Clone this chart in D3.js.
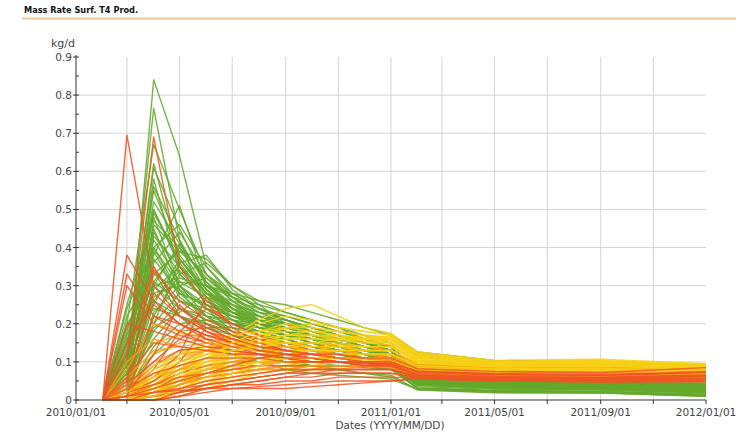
<!DOCTYPE html>
<html><head><meta charset="utf-8">
<script src="https://cdn.jsdelivr.net/npm/d3@7"></script>
<style>body{margin:0;background:#fff;}svg{display:block;}</style>
</head><body>
<svg id="c" width="736" height="435"></svg>
<script>
const dates = ["2010-02-01","2010-03-01","2010-04-01","2010-05-01","2010-06-01","2010-07-01","2010-08-01","2010-09-01","2010-10-01","2010-11-01","2010-12-01","2011-01-01","2011-02-01","2011-05-01","2011-09-01","2012-01-01"];
const xTickLabels = ["2010/01/01","2010/05/01","2010/09/01","2011/01/01","2011/05/01","2011/09/01","2012/01/01"];
const yTicks = [0,0.1,0.2,0.3,0.4,0.5,0.6,0.7,0.8,0.9];

const greenSeries = [
[0,.05,.84,.64,.35,.27,.22,.19,.17,.15,.14,.12,.058,.048,.044,.042],
[0,.1,.765,.42,.3,.24,.2,.17,.15,.13,.12,.11,.05,.04,.036,.03],
[0,.2,.67,.5,.33,.26,.21,.18,.16,.14,.13,.12,.055,.046,.042,.038],
[0,.08,.61,.45,.3,.25,.2,.18,.16,.14,.12,.1,.04,.032,.03,.022],
[0,.12,.55,.38,.29,.24,.21,.19,.17,.15,.13,.12,.052,.043,.039,.035],
[0,.15,.5,.36,.27,.23,.2,.18,.16,.14,.12,.09,.035,.028,.026,.018],
[0,.05,.47,.4,.32,.27,.23,.21,.19,.17,.15,.13,.057,.048,.044,.041],
[0,.02,.43,.35,.28,.24,.22,.2,.18,.16,.14,.12,.05,.041,.037,.033],
[0,.18,.4,.3,.22,.17,.14,.12,.1,.09,.085,.08,.03,.022,.02,.012],
[0,.1,.38,.51,.3,.24,.2,.18,.16,.14,.12,.11,.045,.036,.033,.027],
[0,.04,.36,.44,.33,.28,.24,.21,.19,.17,.15,.13,.055,.047,.043,.039],
[0,.22,.34,.22,.16,.12,.1,.08,.07,.065,.06,.055,.028,.02,.019,.01],
[0,.06,.33,.39,.37,.3,.26,.23,.21,.19,.16,.14,.06,.05,.045,.043],
[0,.13,.31,.26,.23,.2,.18,.16,.14,.13,.11,.1,.04,.033,.03,.022],
[0,.02,.29,.35,.28,.26,.24,.22,.2,.18,.16,.14,.057,.048,.044,.04],
[0,.25,.48,.3,.24,.2,.17,.15,.13,.12,.1,.085,.03,.024,.022,.014],
[0,.09,.27,.31,.3,.27,.25,.23,.21,.19,.17,.15,.062,.051,.046,.044],
[0,.03,.25,.37,.28,.22,.19,.17,.15,.13,.12,.1,.042,.034,.031,.024],
[0,.16,.24,.22,.2,.18,.16,.15,.13,.11,.1,.09,.038,.03,.027,.019],
[0,.05,.22,.33,.26,.23,.21,.2,.18,.17,.15,.13,.052,.044,.04,.036],
[0,.01,.2,.28,.25,.22,.2,.19,.17,.16,.14,.12,.048,.04,.036,.031],
[0,.11,.45,.29,.2,.15,.12,.1,.09,.08,.07,.065,.026,.019,.018,.01],
[0,.07,.58,.33,.26,.22,.19,.17,.15,.13,.12,.1,.044,.036,.032,.025],
[0,.03,.18,.26,.24,.22,.21,.2,.19,.17,.15,.13,.054,.046,.042,.038],
[0,.14,.52,.41,.31,.25,.21,.18,.16,.14,.12,.11,.046,.038,.034,.029],
[0,.06,.42,.31,.27,.25,.23,.22,.2,.18,.16,.14,.057,.048,.044,.04],
[0,.2,.3,.24,.21,.19,.17,.16,.14,.12,.11,.1,.04,.032,.029,.021],
[0,.04,.16,.24,.22,.21,.2,.19,.18,.16,.14,.12,.048,.041,.037,.032],
[0,.09,.49,.37,.29,.23,.2,.17,.15,.13,.12,.1,.043,.035,.032,.025],
[0,.02,.14,.2,.21,.2,.19,.18,.17,.15,.14,.12,.047,.039,.035,.03],
[0,.12,.37,.28,.25,.23,.22,.21,.19,.17,.15,.13,.053,.045,.041,.037],
[0,.05,.26,.22,.19,.17,.16,.15,.14,.13,.12,.11,.045,.037,.034,.028],
[0,.17,.35,.24,.2,.17,.14,.12,.11,.1,.09,.08,.032,.025,.023,.015],
[0,.03,.12,.18,.19,.19,.18,.17,.16,.15,.13,.12,.049,.041,.037,.033],
[0,.08,.4,.46,.35,.28,.24,.21,.18,.16,.14,.12,.05,.042,.038,.034],
[0,0,.31,.4,.29,.23,.19,.17,.16,.15,.13,.11,.042,.035,.031,.024],
[0,.07,.44,.33,.36,.3,.25,.2,.17,.15,.14,.12,.06,.05,.046,.044],
[0,.15,.26,.34,.26,.21,.19,.18,.17,.15,.13,.12,.056,.047,.043,.04],
[0,.03,.39,.27,.22,.2,.19,.18,.16,.15,.14,.13,.054,.046,.042,.038],
[0,.11,.5,.35,.27,.21,.17,.14,.12,.11,.1,.09,.03,.024,.021,.013],
[0,.01,.23,.3,.32,.26,.22,.2,.19,.17,.15,.13,.052,.044,.04,.037],
[0,.19,.33,.29,.24,.21,.18,.16,.14,.12,.11,.1,.044,.036,.033,.026],
[0,.04,.3,.41,.31,.24,.2,.18,.17,.16,.15,.14,.06,.05,.045,.043],
[0,.08,.56,.42,.24,.18,.14,.11,.09,.08,.07,.06,.028,.021,.019,.011],
[0,.02,.19,.23,.28,.25,.22,.2,.18,.16,.15,.13,.051,.043,.04,.035],
[0,.13,.28,.3,.25,.22,.2,.18,.16,.14,.13,.11,.047,.038,.035,.029],
[0,.06,.46,.39,.33,.27,.23,.2,.18,.16,.14,.12,.05,.042,.039,.034],
[0,.24,.4,.28,.22,.18,.16,.14,.13,.12,.11,.1,.04,.033,.03,.02],
[0,.05,.2,.36,.38,.29,.24,.21,.19,.17,.15,.13,.056,.047,.043,.039],
[0,.1,.62,.37,.28,.23,.2,.18,.16,.15,.13,.12,.05,.041,.037,.031],
[0,.07,.3,.32,.3,.28,.26,.25,.23,.21,.19,.17,.126,.104,.1,.09]
];
const yellowSeries = [
[0,.01,.04,.08,.13,.17,.21,.24,.25,.22,.19,.175,.126,.104,.107,.095],
[0,0,.02,.05,.09,.12,.15,.17,.18,.18,.17,.165,.12,.1,.102,.09],
[0,.02,.06,.1,.13,.15,.17,.18,.18,.17,.16,.155,.115,.097,.099,.088],
[0,0,.01,.03,.06,.09,.12,.14,.15,.16,.16,.16,.112,.095,.098,.087],
[0,.01,.05,.09,.12,.14,.15,.16,.16,.155,.15,.145,.105,.092,.094,.084],
[0,0,.03,.06,.09,.11,.13,.14,.14,.14,.14,.14,.1,.09,.092,.082],
[0,.03,.08,.12,.15,.17,.18,.19,.18,.17,.16,.15,.11,.095,.097,.086],
[0,0,0,.02,.04,.07,.09,.11,.12,.13,.13,.13,.095,.086,.088,.079],
[0,.01,.04,.07,.1,.12,.13,.14,.13,.13,.12,.12,.09,.083,.085,.076],
[0,0,.02,.04,.07,.09,.11,.12,.12,.12,.12,.12,.088,.081,.083,.074],
[0,.02,.07,.11,.14,.16,.2,.22,.21,.19,.18,.17,.122,.1,.104,.092],
[0,0,.01,.02,.04,.06,.08,.09,.1,.11,.11,.11,.082,.077,.079,.071],
[0,.01,.03,.06,.08,.1,.11,.12,.12,.11,.11,.105,.08,.075,.077,.07],
[0,0,.04,.08,.11,.13,.15,.17,.17,.165,.16,.16,.115,.097,.1,.089],
[0,0,0,.01,.03,.05,.07,.08,.09,.1,.1,.1,.078,.074,.076,.069],
[0,.02,.05,.08,.1,.11,.12,.13,.13,.13,.13,.13,.098,.088,.09,.08],
[0,0,.02,.05,.08,.11,.14,.16,.16,.16,.15,.15,.108,.093,.096,.085],
[0,.01,.02,.04,.06,.08,.1,.11,.11,.11,.11,.11,.085,.079,.081,.072],
[0,0,.03,.07,.11,.14,.17,.19,.19,.18,.17,.165,.118,.099,.101,.09],
[0,.04,.09,.12,.14,.15,.15,.15,.15,.145,.14,.14,.102,.09,.093,.083],
[0,0,.01,.04,.08,.12,.16,.19,.2,.19,.18,.17,.122,.101,.103,.091],
[0,.02,.04,.06,.08,.09,.1,.1,.1,.1,.1,.1,.083,.078,.08,.072],
[0,0,.02,.06,.1,.13,.15,.16,.17,.17,.165,.16,.116,.098,.1,.088],
[0,.01,.06,.1,.12,.13,.14,.15,.15,.15,.14,.14,.1,.089,.091,.081],
[0,0,0,.03,.06,.08,.1,.12,.13,.14,.14,.14,.104,.091,.093,.083],
[0,.03,.07,.1,.12,.14,.16,.17,.17,.16,.155,.15,.112,.095,.097,.086],
[0,0,.01,.03,.05,.07,.09,.1,.11,.12,.12,.12,.09,.082,.084,.075],
[0,.01,.03,.07,.11,.15,.18,.2,.19,.18,.17,.16,.117,.098,.101,.089],
[0,0,.03,.05,.07,.09,.1,.11,.11,.11,.105,.1,.08,.075,.077,.07],
[0,.02,.06,.09,.11,.13,.14,.15,.14,.14,.13,.13,.096,.087,.089,.079]
];
const orangeSeries = [
[0,.02,.06,.09,.11,.12,.12,.12,.12,.11,.11,.1,.075,.068,.07,.066],
[0,0,.03,.06,.08,.1,.11,.12,.12,.12,.11,.11,.08,.072,.074,.07],
[0,.05,.12,.15,.16,.15,.14,.13,.12,.12,.11,.11,.078,.07,.072,.068],
[0,0,.01,.03,.05,.07,.08,.09,.1,.1,.1,.1,.07,.064,.066,.063],
[0,.03,.08,.11,.13,.14,.14,.14,.13,.13,.12,.12,.088,.078,.08,.077],
[0,.01,.04,.07,.09,.1,.1,.11,.11,.1,.1,.095,.068,.062,.064,.06],
[0,0,.02,.04,.06,.08,.1,.11,.12,.13,.13,.13,.092,.082,.084,.081],
[0,.08,.2,.18,.16,.15,.14,.13,.12,.11,.11,.1,.072,.065,.067,.063],
[0,.02,.05,.08,.1,.11,.12,.13,.13,.12,.12,.115,.084,.075,.077,.073],
[0,0,.01,.02,.03,.05,.06,.07,.08,.08,.09,.09,.066,.06,.062,.058],
[0,.04,.1,.13,.14,.14,.13,.13,.12,.12,.11,.105,.076,.068,.07,.067],
[0,.01,.03,.05,.07,.09,.1,.1,.1,.1,.1,.1,.073,.066,.068,.064],
[0,.06,.15,.17,.17,.16,.15,.14,.13,.12,.12,.11,.082,.073,.075,.072],
[0,0,.02,.05,.08,.1,.12,.13,.13,.13,.12,.12,.088,.079,.081,.078],
[0,.02,.04,.06,.07,.08,.08,.09,.09,.09,.09,.085,.064,.058,.06,.056],
[0,.01,.05,.1,.13,.15,.15,.15,.14,.14,.13,.13,.09,.08,.082,.079],
[0,0,.02,.03,.05,.06,.07,.08,.08,.09,.09,.09,.067,.061,.063,.059],
[0,.04,.09,.12,.13,.13,.12,.12,.12,.11,.11,.105,.077,.069,.071,.068],
[0,.02,.03,.05,.07,.08,.09,.1,.1,.1,.1,.1,.072,.065,.067,.063],
[0,.1,.16,.14,.13,.12,.12,.11,.11,.11,.1,.1,.071,.064,.066,.062],
[0,0,.04,.08,.11,.13,.14,.15,.15,.14,.14,.13,.094,.084,.086,.083],
[0,.03,.06,.08,.09,.1,.11,.11,.11,.11,.11,.11,.079,.07,.072,.069],
[0,0,.01,.04,.07,.09,.1,.11,.11,.11,.1,.1,.074,.066,.068,.065],
[0,.06,.13,.14,.15,.14,.13,.12,.12,.11,.11,.1,.074,.067,.069,.066],
[0,.01,.02,.04,.06,.07,.08,.08,.09,.09,.09,.09,.068,.061,.063,.06]
];
const redSeries = [
[0,.695,.3,.22,.18,.16,.14,.13,.12,.11,.1,.09,.07,.064,.062,.068],
[0,.1,.69,.35,.25,.2,.17,.15,.13,.12,.11,.1,.075,.068,.066,.074],
[0,.05,.34,.26,.21,.18,.16,.14,.13,.12,.11,.1,.072,.065,.063,.07],
[0,.02,.08,.18,.24,.2,.17,.15,.14,.13,.12,.11,.08,.073,.07,.08],
[0,0,.02,.05,.08,.09,.1,.1,.1,.1,.1,.09,.066,.06,.058,.064],
[0,.01,.03,.05,.06,.07,.08,.08,.09,.09,.09,.09,.062,.056,.054,.058],
[0,.3,.2,.17,.15,.14,.13,.12,.11,.1,.1,.09,.066,.06,.058,.063],
[0,0,.01,.02,.03,.04,.05,.06,.06,.07,.07,.07,.058,.052,.05,.052],
[0,.04,.28,.22,.18,.15,.13,.12,.11,.1,.1,.09,.068,.062,.06,.066],
[0,.02,.06,.12,.27,.19,.15,.13,.12,.11,.1,.1,.072,.066,.064,.071],
[0,0,.02,.04,.06,.07,.08,.09,.09,.09,.09,.085,.063,.057,.055,.06],
[0,.01,.04,.07,.09,.1,.1,.1,.1,.1,.095,.09,.066,.06,.058,.064],
[0,.15,.25,.2,.17,.15,.13,.12,.11,.1,.1,.095,.07,.064,.062,.068],
[0,0,.01,.03,.04,.05,.06,.07,.07,.08,.08,.08,.06,.054,.052,.056],
[0,.03,.09,.13,.14,.13,.12,.11,.1,.1,.1,.095,.071,.065,.063,.07],
[0,.01,.22,.2,.17,.15,.13,.12,.11,.1,.1,.09,.068,.062,.06,.066],
[0,0,.03,.06,.08,.09,.09,.09,.09,.09,.09,.09,.067,.061,.059,.065],
[0,.02,.05,.1,.19,.16,.14,.13,.12,.11,.1,.1,.074,.068,.066,.073],
[0,.33,.22,.18,.15,.13,.12,.11,.1,.1,.09,.09,.065,.059,.057,.062],
[0,0,0,.02,.04,.05,.06,.07,.08,.08,.08,.08,.061,.055,.053,.058],
[0,0,0,.01,.02,.03,.035,.04,.045,.05,.05,.05,.056,.05,.047,.048],
[0,.04,.1,.16,.2,.17,.15,.13,.12,.11,.11,.1,.076,.069,.067,.075],
[0,0,.01,.02,.03,.04,.04,.05,.05,.06,.06,.06,.057,.051,.049,.05],
[0,.2,.18,.16,.14,.13,.12,.11,.1,.1,.09,.09,.067,.061,.059,.064],
[0,.02,.04,.06,.07,.08,.09,.1,.1,.1,.1,.1,.073,.067,.065,.072],
[0,.01,.12,.25,.18,.15,.13,.12,.11,.1,.1,.09,.066,.06,.058,.063],
[0,0,.02,.03,.05,.06,.07,.08,.08,.08,.08,.08,.06,.054,.052,.056],
[0,.38,.26,.2,.16,.14,.12,.11,.1,.1,.09,.09,.064,.058,.056,.061],
[0,.06,.15,.14,.13,.12,.12,.11,.11,.1,.1,.1,.074,.067,.065,.072],
[0,0,0,.01,.03,.04,.05,.06,.07,.07,.07,.07,.058,.053,.051,.054],
[0,.03,.07,.09,.11,.11,.11,.1,.1,.1,.095,.09,.068,.062,.06,.066],
[0,.12,.35,.24,.19,.16,.14,.13,.12,.11,.1,.1,.075,.068,.066,.074],
[0,.01,.03,.05,.07,.09,.11,.12,.12,.12,.11,.11,.082,.075,.072,.085],
[0,.01,.02,.025,.03,.03,.03,.03,.035,.04,.045,.05,.056,.05,.048,.05]
];
const groups = [
  {name:"green", color:"#64a82b", data:greenSeries},
  {name:"yellow", color:"#f6cf14", data:yellowSeries},
  {name:"red", color:"#ef5523", data:redSeries},
  {name:"orange", color:"#f6a014", data:orangeSeries}
];

const svg = d3.select("#c");
const parse = d3.utcParse("%Y-%m-%d");
const x = d3.scaleUtc().domain([parse("2010-01-01"), parse("2012-01-01")]).range([76, 706]);
const y = d3.scaleLinear().domain([0, 0.9]).range([400, 57]);
const font = "'DejaVu Sans', Verdana, sans-serif";

// title
svg.append("text").attr("x", 24).attr("y", 13).attr("font-family", font)
  .attr("font-weight", "bold").attr("font-size", 8.2).attr("fill", "#111").text("Mass Rate Surf. T4 Prod.");
svg.append("line").attr("x1", 22).attr("x2", 736).attr("y1", 18.5).attr("y2", 18.5)
  .attr("stroke", "#f4c89c").attr("stroke-width", 2);

// grid
const gridX = d3.utcMonth.every(2).range(parse("2010-03-01"), parse("2012-01-01"));
svg.append("g").selectAll("line").data(gridX).join("line")
  .attr("x1", d => x(d)).attr("x2", d => x(d)).attr("y1", y(0.9)).attr("y2", y(0))
  .attr("stroke", "#d4d4d4").attr("stroke-width", 1);
svg.append("g").selectAll("line").data(yTicks.filter(v => v > 0 && v < 0.9)).join("line")
  .attr("x1", x.range()[0]).attr("x2", x.range()[1]).attr("y1", d => y(d)).attr("y2", d => y(d))
  .attr("stroke", "#d4d4d4").attr("stroke-width", 1);

// lines: green first, then yellow/orange/red interleaved
const dts = dates.map(parse);
const order = greenSeries.map(v => ({color: groups[0].color, values: v}));
const rest = [groups[1], groups[3], groups[2]];
const maxLen = d3.max(rest, g => g.data.length);
for (let i = 0; i < maxLen; i++) {
  for (const g of rest) {
    if (i < g.data.length) order.push({color: g.color, values: g.data[i]});
  }
}
const line = d3.line().x((d, i) => x(dts[i])).y(d => y(d));
svg.append("g").selectAll("path").data(order).join("path")
  .attr("d", d => line(d.values)).attr("fill", "none")
  .attr("stroke", d => d.color).attr("stroke-width", 1.4).attr("stroke-opacity", 0.88)
  .attr("stroke-linejoin", "round");

// axes
const ax = svg.append("g").attr("font-family", font).attr("font-size", 10.5).attr("fill", "#444");
ax.append("line").attr("x1", 76).attr("x2", 76).attr("y1", y(0.9) - 2).attr("y2", y(0)).attr("stroke", "#333");
ax.append("line").attr("x1", 76).attr("x2", 706).attr("y1", y(0)).attr("y2", y(0)).attr("stroke", "#333");
const yMinor = d3.range(0.05, 0.9, 0.1);
ax.append("g").selectAll("line").data(yTicks).join("line")
  .attr("x1", 73).attr("x2", 79).attr("y1", d => y(d)).attr("y2", d => y(d)).attr("stroke", "#333");
ax.append("g").selectAll("line").data(yMinor).join("line")
  .attr("x1", 76).attr("x2", 79).attr("y1", d => y(d)).attr("y2", d => y(d)).attr("stroke", "#333");
ax.append("g").selectAll("text").data(yTicks).join("text")
  .attr("x", 72).attr("y", d => y(d) + 4).attr("text-anchor", "end").attr("fill", "#444")
  .text(d => d3.format("~g")(d));
const xTickDates = d3.utcMonth.every(2).range(parse("2010-01-01"), parse("2012-01-02"));
ax.append("g").selectAll("line").data(xTickDates).join("line")
  .attr("x1", d => x(d)).attr("x2", d => x(d)).attr("y1", y(0)).attr("y2", y(0) + 4).attr("stroke", "#333");
const xLabelDates = xTickLabels.map(s => parse(s.replace(/\//g, "-")));
ax.append("g").selectAll("text").data(xLabelDates).join("text")
  .attr("x", d => x(d)).attr("y", 416).attr("text-anchor", "middle").attr("fill", "#444")
  .text((d, i) => xTickLabels[i]);
ax.append("text").attr("x", 390).attr("y", 429).attr("text-anchor", "middle").attr("fill", "#444")
  .text("Dates (YYYY/MM/DD)");
ax.append("text").attr("x", 51).attr("y", 47).attr("fill", "#444").attr("font-size", 11).text("kg/d");
</script>
</body></html>
